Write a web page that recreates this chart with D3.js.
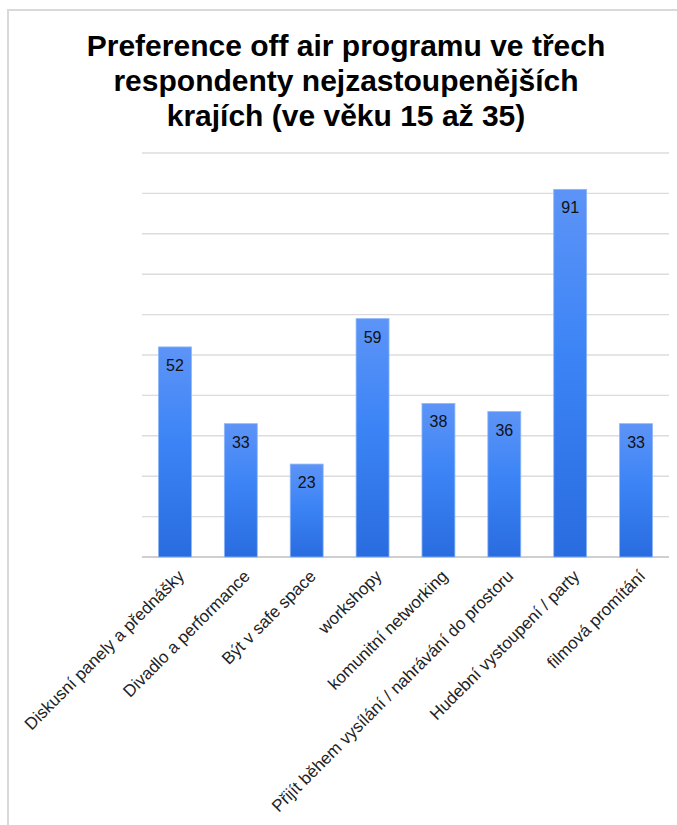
<!DOCTYPE html>
<html>
<head>
<meta charset="utf-8">
<script src="https://cdn.jsdelivr.net/npm/d3@7"></script>
<style>
  body { margin: 0; background: #fff; }
  svg { display: block; font-family: "Liberation Sans", Arial, sans-serif; }
</style>
</head>
<body>
<svg class="chart" width="677" height="825"></svg>
<script>
const width = 677;
const height = 825;

// data
const categories = [
  "Diskusní panely a přednášky",
  "Divadlo a performance",
  "Být v safe space",
  "workshopy",
  "komunitní networking",
  "Přijít během vysílání / nahrávání do prostoru",
  "Hudební vystoupení / party",
  "filmová promítání"
];
const values = [52, 33, 23, 59, 38, 36, 91, 33];
const yTicks = [0, 10, 20, 30, 40, 50, 60, 70, 80, 90, 100];
const titleLines = [
  "Preference off air programu ve třech",
  "respondenty nejzastoupenějších",
  "krajích (ve věku 15 až 35)"
];

const svg = d3.select(".chart");

// frame of the chart
svg.append("rect")
  .attr("x", 8).attr("y", 10)
  .attr("width", width).attr("height", height)
  .attr("fill", "none")
  .attr("stroke", "#d9d9d9")
  .attr("stroke-width", 2);

// title
svg.append("g")
  .selectAll("text")
  .data(titleLines)
  .enter()
  .append("text")
  .attr("x", 346)
  .attr("y", (d, i) => 56 + i * 35)
  .attr("text-anchor", "middle")
  .style("font-size", "30px")
  .style("font-weight", "bold")
  .style("fill", "#000")
  .text(d => d);

const plotLeft = 142, plotRight = 669, plotTop = 153, plotBottom = 557;

const x = d3.scaleBand()
  .domain(categories)
  .range([plotLeft, plotRight])
  .paddingInner(0.5)
  .paddingOuter(0.25);

const y = d3.scaleLinear()
  .domain([0, 100])
  .range([plotBottom, plotTop]);

// grid lines
svg.append("g")
  .selectAll("line")
  .data(yTicks)
  .enter()
  .append("line")
  .attr("x1", plotLeft).attr("x2", plotRight)
  .attr("y1", d => y(d)).attr("y2", d => y(d))
  .attr("stroke", d => d === 0 ? "#cfcfcf" : "#dcdcdc")
  .attr("stroke-width", d => d === 0 ? 2 : 1.4);

// gradient for bars
const grad = svg.append("defs").append("linearGradient")
  .attr("id", "barGrad")
  .attr("x1", 0).attr("y1", 0).attr("x2", 0).attr("y2", 1);
grad.append("stop").attr("offset", "0%").attr("stop-color", "#5d94f6");
grad.append("stop").attr("offset", "45%").attr("stop-color", "#3c84f6");
grad.append("stop").attr("offset", "100%").attr("stop-color", "#296ce0");

svg.append("g")
  .selectAll("rect")
  .data(values)
  .enter()
  .append("rect")
  .attr("x", (d, i) => x(categories[i]))
  .attr("y", d => y(d))
  .attr("width", x.bandwidth())
  .attr("height", d => y(0) - y(d))
  .attr("fill", "url(#barGrad)")
  .attr("stroke", "#8db6f8")
  .attr("stroke-width", 0.8);

// value labels inside the bars
svg.append("g")
  .selectAll("text")
  .data(values)
  .enter()
  .append("text")
  .attr("x", (d, i) => x(categories[i]) + x.bandwidth() / 2)
  .attr("y", d => y(d) + 24)
  .attr("text-anchor", "middle")
  .style("font-size", "16px")
  .style("fill", "#111")
  .text(d => d);

// rotated category labels
svg.append("g")
  .selectAll("text")
  .data(categories)
  .enter()
  .append("text")
  .attr("transform", d => `translate(${x(d) + x.bandwidth() / 2 + 6}, 573) rotate(-45)`)
  .attr("text-anchor", "end")
  .attr("dy", "0.35em")
  .style("font-size", "17px")
  .style("fill", "#222")
  .text(d => d);
</script>
</body>
</html>
